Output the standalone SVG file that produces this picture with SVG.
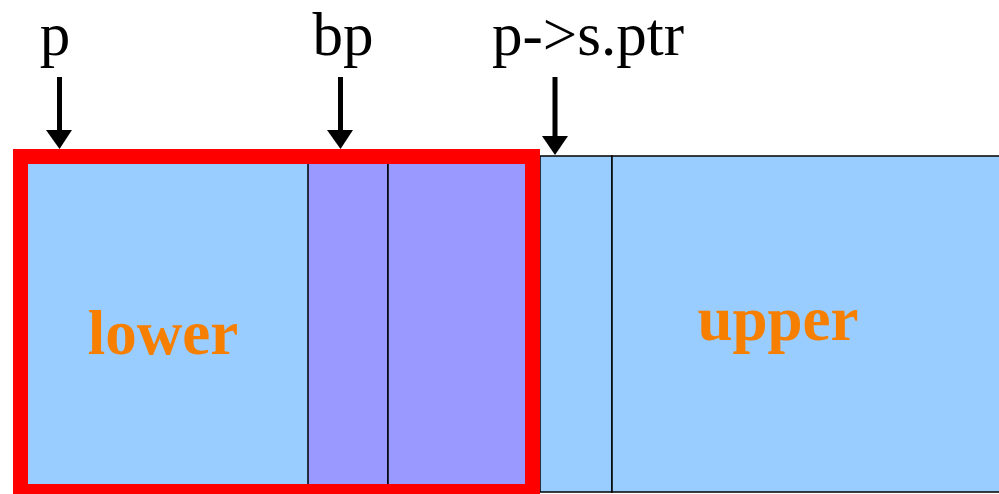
<svg xmlns="http://www.w3.org/2000/svg" width="999" height="494" viewBox="0 0 999 494">
<style>
.lbl{font-family:"Liberation Serif","Times New Roman",serif;font-size:61px;fill:#000;text-anchor:middle}
.big{font-family:"Liberation Serif","Times New Roman",serif;font-size:63px;font-weight:bold;fill:#F77F00;text-anchor:middle}
.cell{stroke:#000;stroke-width:1.5}
.arr{stroke:#000;stroke-width:5;fill:none}
</style>
<rect width="999" height="494" fill="#fff"/>
<g id="upper">
<rect class="cell" x="540" y="156" width="72" height="336" fill="#99CCFF"/>
<rect class="cell" x="612" y="156" width="390" height="336" fill="#99CCFF"/>
<text class="big" x="778" y="340">upper</text>
</g>
<g id="lower">
<rect x="20" y="156" width="512" height="340" fill="#99CCFF"/>
<rect class="cell" x="308" y="156" width="80" height="340" fill="#9999FF"/>
<rect class="cell" x="388" y="156" width="144" height="340" fill="#9999FF"/>
<rect x="20.5" y="156.5" width="512" height="335" fill="none" stroke="#FF0000" stroke-width="15"/>
<text class="big" x="163" y="354">lower</text>
</g>
<g id="labels">
<text class="lbl" x="55" y="54.5">p</text>
<text class="lbl" x="343" y="54.5">bp</text>
<text class="lbl" x="588" y="54.5">p-&gt;s.ptr</text>
</g>
<g id="connectors">
<line class="arr" x1="59.5" y1="77" x2="59.5" y2="131"/>
<path d="M46,130 L72,130 L59.5,149 Z"/>
<line class="arr" x1="340.5" y1="77" x2="340.5" y2="131"/>
<path d="M327,130 L353,130 L340.5,149 Z"/>
<line class="arr" x1="555" y1="77" x2="555" y2="137"/>
<path d="M542,136 L568,136 L555,155 Z"/>
</g>
</svg>
